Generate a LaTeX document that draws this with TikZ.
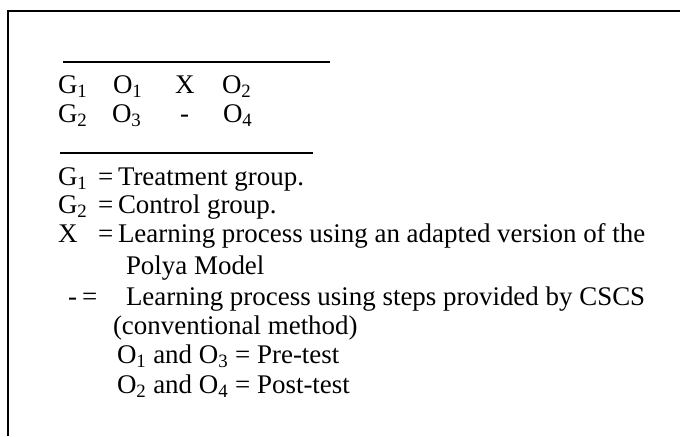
\documentclass[tikz,border=0pt]{standalone}
\usepackage{fontspec}
\setmainfont{Liberation Serif}
\newcommand{\sbs}[1]{\textsubscript{#1}}
\begin{document}
\begin{tikzpicture}[x=0.75pt,y=-0.75pt,
  txt/.style={anchor=base west,inner sep=0pt,outer sep=0pt,font=\fontsize{20.2}{24}\selectfont},
  rulebar/.style={line width=0.8pt},
  frame/.style={line width=1.6pt}]
\useasboundingbox (0,0) rectangle (680,436);
% frame
\coordinate (ftl) at (8,11);
\coordinate (fbl) at (8,436);
\coordinate (ftr) at (680,11);
\draw[frame] (fbl) -- (ftl) -- (ftr);
% top rule
\coordinate (r1a) at (63,62);
\coordinate (r1b) at (330,62);
\draw[rulebar] (r1a) -- (r1b);
% design rows
\node[txt] (g1) at (58,93) {G\sbs{1}};
\node[txt] (o1) at (113,93) {O\sbs{1}};
\node[txt] (xx) at (175,93) {X};
\node[txt] (o2) at (222,93) {O\sbs{2}};
\node[txt] (g2) at (58,122) {G\sbs{2}};
\node[txt] (o3) at (112,122) {O\sbs{3}};
\node[txt] (dd) at (180,122) {-};
\node[txt] (o4) at (223,122) {O\sbs{4}};
% second rule
\coordinate (r2a) at (60,153);
\coordinate (r2b) at (313,153);
\draw[rulebar] (r2a) -- (r2b);
% legend
\node[txt] (l1a) at (58,185) {G\sbs{1}};
\node[txt] (l1b) at (98,185) {=};
\node[txt] (l1c) at (118,185) {Treatment group.};
\node[txt] (l2a) at (58,213) {G\sbs{2}};
\node[txt] (l2b) at (98,213) {=};
\node[txt] (l2c) at (118,213) {Control group.};
\node[txt] (l3a) at (58,242) {X};
\node[txt] (l3b) at (98,242) {=};
\node[txt] (l3c) at (118,242) {Learning process using an adapted version of the};
\node[txt] (l4) at (126,274) {Polya Model};
\node[txt] (l5a) at (68,305) {-};
\node[txt] (l5b) at (82,305) {=};
\node[txt] (l5c) at (126,305) {Learning process using steps provided by CSCS};
\node[txt] (l6) at (113,334) {(conventional method)};
\node[txt] (l7) at (117,363) {O\sbs{1} and O\sbs{3} = Pre-test};
\node[txt] (l8) at (117,393) {O\sbs{2} and O\sbs{4} = Post-test};
\end{tikzpicture}
\end{document}
